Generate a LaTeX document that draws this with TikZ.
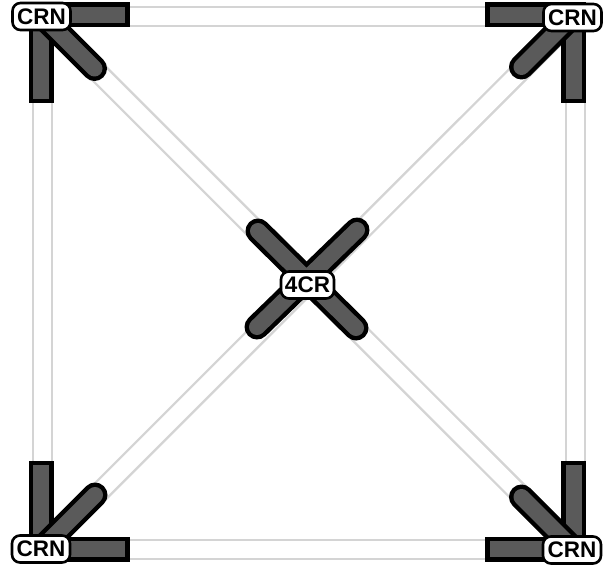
\documentclass[tikz,border=0pt]{standalone}
\usepackage{fontspec}
\setmainfont{Liberation Sans}
\usetikzlibrary{calc}
\definecolor{railgray}{HTML}{D4D4D4}
\definecolor{bargray}{HTML}{5A5A5A}
\begin{document}
\begin{tikzpicture}[x=1pt,y=-1pt,
  railpair/.style={draw=railgray, line width=2.4pt, double=white, double distance=16.6pt},
  lout/.style={draw=black, line width=25pt, line cap=rect, line join=miter},
  lin/.style={draw=bargray, line width=16pt, line cap=rect, line join=miter},
  armout/.style={draw=black, line width=25pt, line cap=round},
  armin/.style={draw=bargray, line width=16pt, line cap=round},
  tag/.style={draw=black, fill=white, line width=2.6pt, rounded corners=8pt, inner sep=0pt,
    minimum width=58pt, minimum height=27pt, font=\fontsize{22.5}{22.5}\selectfont\bfseries}]
\useasboundingbox (0,0) rectangle (608,567);
% rail end points
\coordinate (rtl) at (42.2,16.5);
\coordinate (rtr) at (575.5,16.5);
\coordinate (rbl) at (42.2,549.5);
\coordinate (rbr) at (575.5,549.5);
\coordinate (rc) at (308.7,283);
% rails
\draw[railpair] (rtl) -- (rtr);
\draw[railpair] (rbl) -- (rbr);
\draw[railpair] (rtl) -- (rbl);
\draw[railpair] (rtr) -- (rbr);
\draw[railpair] (rtl) -- (rc);
\draw[railpair] (rtr) -- (rc);
\draw[railpair] (rbl) -- (rc);
\draw[railpair] (rbr) -- (rc);
% corner pieces
\coordinate (ctl) at (41,15);
\coordinate (ctr) at (573.5,15);
\coordinate (cbl) at (41,549);
\coordinate (cbr) at (573.5,549);
% center cross arm ends
\coordinate (xa) at (258,231);
\coordinate (xb) at (356,328);
\coordinate (xc) at (357,230);
\coordinate (xd) at (257,327);
\foreach \s in {lout,lin}{
  \draw[\s] ($(ctl)+(76,0)$) -- (ctl) -- ($(ctl)+(0,76)$);
  \draw[\s] ($(ctr)+(-76,0)$) -- (ctr) -- ($(ctr)+(0,76)$);
  \draw[\s] ($(cbl)+(76,0)$) -- (cbl) -- ($(cbl)+(0,-76)$);
  \draw[\s] ($(cbr)+(-76,0)$) -- (cbr) -- ($(cbr)+(0,-76)$);
}
\foreach \s in {armout,armin}{
  \draw[\s] (ctl) -- ($(ctl)+(53.5,53.5)$);
  \draw[\s] (ctr) -- ($(ctr)+(-52,52)$);
  \draw[\s] (cbl) -- ($(cbl)+(54,-54)$);
  \draw[\s] (cbr) -- ($(cbr)+(-52,-52)$);
}
\draw[armout] (xa) -- (xb);
\draw[armout] (xc) -- (xd);
\draw[armin] (xa) -- (xb);
\draw[armin] (xc) -- (xd);
% labels
\node[tag] (ltl) at (41.5,16.5) {CRN};
\node[tag] (ltr) at (572.5,17.5) {CRN};
\node[tag] (lbl) at (41,549) {CRN};
\node[tag] (lbr) at (572,550) {CRN};
\node[tag, minimum width=53pt] (lc) at (307.5,285) {4CR};
\end{tikzpicture}
\end{document}
